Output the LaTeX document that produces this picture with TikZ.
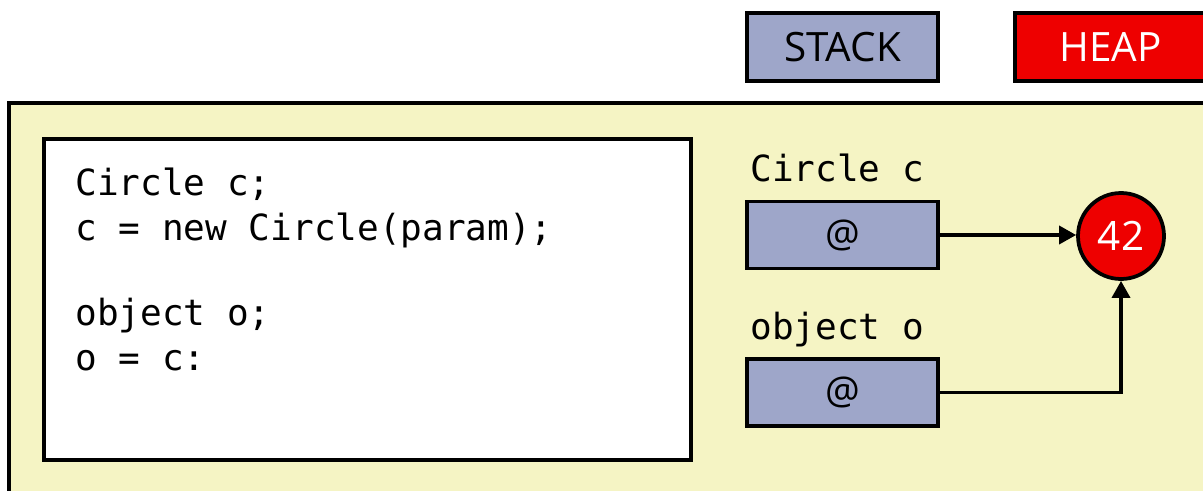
\documentclass[tikz,border=0pt]{standalone}
\usepackage{fontspec}
\setmainfont{Open Sans}
\setmonofont{DejaVu Sans Mono}
\usetikzlibrary{arrows.meta,positioning}
\definecolor{stackblue}{HTML}{9EA6C9}
\definecolor{heapred}{HTML}{EE0000}
\definecolor{panelyellow}{HTML}{F5F4C4}
\tikzset{
  mem/legend/.style={draw, line width=0.75mm, minimum width=38.2mm, minimum height=13.6mm, font=\fontsize{23}{27}\selectfont},
  mem/stack/.style={mem/legend, fill=stackblue},
  mem/heap/.style={mem/legend, fill=heapred, text=white},
  mem/panel/.style={draw, line width=0.75mm, fill=panelyellow},
  mem/code/.style={draw, line width=0.75mm, fill=white, minimum width=129.4mm, minimum height=64.2mm},
  mem/listing/.style={font=\ttfamily\fontsize{20.5}{25.6}\selectfont, inner sep=0pt, align=left},
  mem/var/.style={font=\ttfamily\fontsize{20.5}{25.6}\selectfont, inner sep=0pt},
  mem/slot/.style={draw, line width=0.75mm, fill=stackblue, minimum width=38.2mm, minimum height=13.4mm, font=\fontsize{22}{26}\selectfont},
  mem/object/.style={draw, circle, line width=0.75mm, fill=heapred, text=white, minimum size=17.2mm, inner sep=0pt, font=\fontsize{23}{27}\selectfont},
  mem/ref/.style={line width=0.7mm, -{Triangle[length=3.4mm, width=3.6mm]}}
}

\begin{document}
\begin{tikzpicture}[x=0.2mm, y=-0.2mm]
  \useasboundingbox (0,0) rectangle (1203,490);

  % legend
  \node[mem/stack] (stack) at (842.5,47) {STACK};
  \node[mem/heap, right=14.6mm of stack] (heap) {HEAP};

  % frame and source
  \draw[mem/panel] (9,103) rectangle (1240,530);
  \node[mem/code] (code) at (367.5,299.5) {};
  \node[mem/listing, anchor=north west] (listing) at ([xshift=6.6mm, yshift=-6mm]code.north west)
    {Circle c;\\ c = new Circle(param);\\[22.8pt] object o;\\ o = c:};

  % variables on the stack
  \node[mem/slot] (cslot) at (842.5,235) {@};
  \node[mem/slot] (oslot) at (842.5,392.5) {@};
  \node[mem/var, above=3.6mm of cslot.north west, anchor=base west, xshift=1mm] (cname) {Circle c};
  \node[mem/var, above=3.6mm of oslot.north west, anchor=base west, xshift=1mm] (oname) {object o};

  % object on the heap
  \node[mem/object] (obj) at (1121,236) {42};

  \draw[mem/ref] (cslot.east) -- (cslot.east -| obj.west);
  \draw[mem/ref] (oslot.east) -| (obj.south);
\end{tikzpicture}
\end{document}
